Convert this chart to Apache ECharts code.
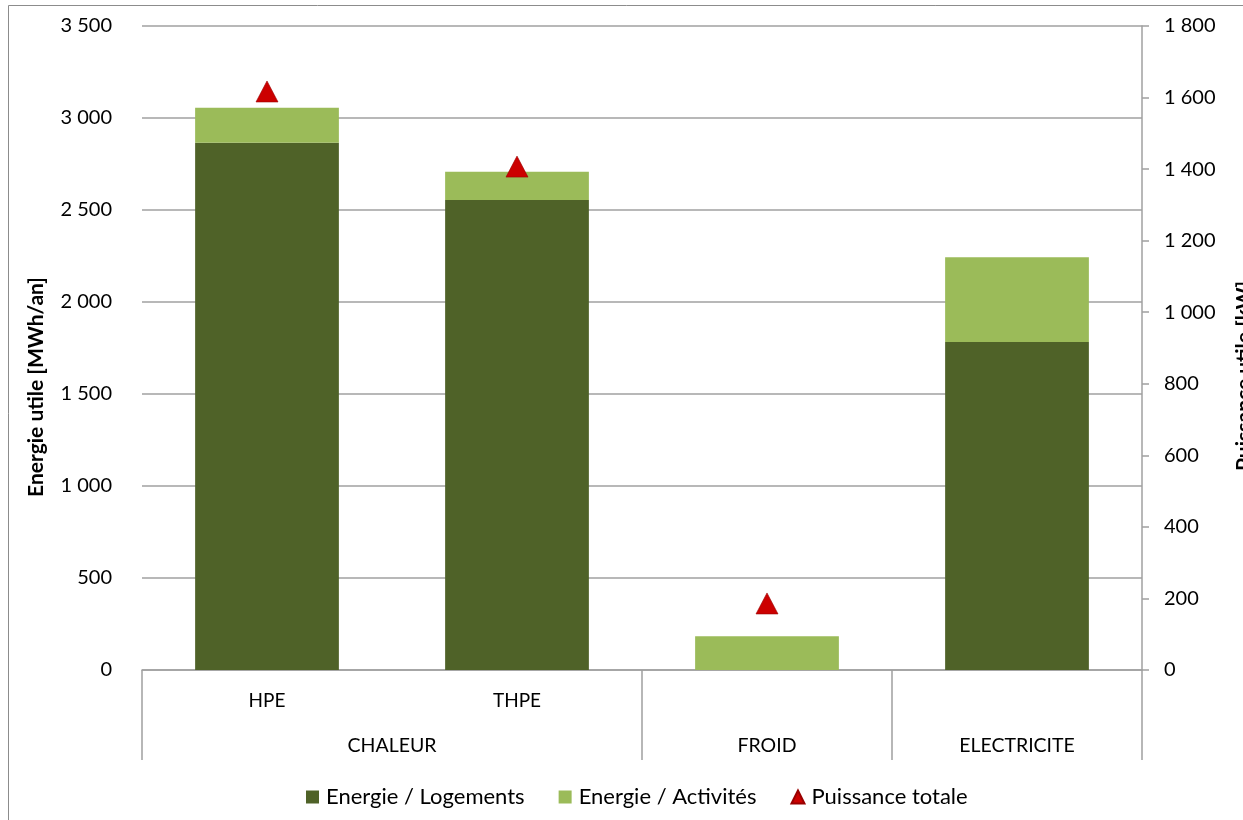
<!DOCTYPE html>
<html>
<head>
<meta charset="utf-8">
<script src="https://cdn.jsdelivr.net/npm/echarts@6/dist/echarts.min.js"></script>
<style>
html,body{margin:0;padding:0;background:#fff;}
#chart{width:1243px;height:820px;}
</style>
</head>
<body>
<div id="chart"></div>
<script>
// ---- data ----
const subCategories = ['HPE', 'THPE', '', ''];
const groupLabels = ['CHALEUR', 'FROID', 'ELECTRICITE'];
const groupSpans = [2, 1, 1];
const energieLogements = [2866, 2555, 0, 1782];
const energieActivites = [190, 153, 183, 461];
const puissanceTotale = [1617, 1407, 186, null];
const leftTicks = [0, 500, 1000, 1500, 2000, 2500, 3000, 3500];
const rightTicks = [0, 200, 400, 600, 800, 1000, 1200, 1400, 1600, 1800];
const seriesNames = ['Energie / Logements', 'Energie / Activités', 'Puissance totale'];
const leftTitle = 'Energie utile [MWh/an]';
const rightTitle = 'Puissance utile [kW]';

// group boundaries and centres derived from spans
const groupBounds = [0];
groupSpans.forEach(s => groupBounds.push(groupBounds[groupBounds.length - 1] + s));
const groupCenters = groupSpans.map((s, i) => groupBounds[i] + s / 2);

const FONT = 'Lato, "Open Sans", sans-serif';
const GRAY = '#a0a0a0';
const fmt = v => String(v).replace(/\B(?=(\d{3})+(?!\d))/g, ' ');

const chart = echarts.init(document.getElementById('chart'), null, {renderer: 'canvas'});
chart.setOption({
  animation: false,
  backgroundColor: '#fff',
  textStyle: {fontFamily: FONT, color: '#000'},
  grid: {left: 142, right: 101, top: 26, bottom: 150},
  legend: {
    left: 301, top: 781,
    itemWidth: 13, itemHeight: 13, itemGap: 34,
    textStyle: {fontFamily: FONT, fontSize: 22, color: '#000', padding: [0, 0, 0, 2]},
    data: [
      {name: seriesNames[0], icon: 'rect'},
      {name: seriesNames[1], icon: 'rect'},
      {name: seriesNames[2], icon: 'triangle'}
    ]
  },
  xAxis: [
    {
      type: 'category', data: subCategories, position: 'bottom',
      axisLine: {show: true, lineStyle: {color: GRAY, width: 1.5}},
      axisTick: {show: false},
      axisLabel: {fontSize: 19, color: '#000', margin: 21, fontFamily: FONT, interval: 0},
      splitLine: {show: false}
    },
    {
      type: 'value', min: 0, max: groupBounds[groupBounds.length - 1], position: 'bottom',
      axisLine: {show: false},
      axisTick: {show: true, customValues: groupBounds, length: 90, lineStyle: {color: GRAY, width: 1.5}},
      axisLabel: {
        show: true, customValues: groupCenters, fontSize: 19.5, color: '#000', margin: 66, fontFamily: FONT,
        formatter: v => { const i = groupCenters.indexOf(v); return i >= 0 ? groupLabels[i] : ''; }
      },
      splitLine: {show: false}
    }
  ],
  yAxis: [
    {
      type: 'value', min: leftTicks[0], max: leftTicks[leftTicks.length - 1], interval: 500, position: 'left',
      axisLine: {show: false}, axisTick: {show: false},
      axisLabel: {fontSize: 20, color: '#000', margin: 30, fontFamily: FONT, formatter: fmt},
      splitLine: {show: true, lineStyle: {color: GRAY, width: 1.5}}
    },
    {
      type: 'value', min: rightTicks[0], max: rightTicks[rightTicks.length - 1], interval: 200, position: 'right',
      axisLine: {show: true, lineStyle: {color: GRAY, width: 1.5}},
      axisTick: {show: true, length: 7, lineStyle: {color: GRAY, width: 1.5}},
      axisLabel: {fontSize: 20, color: '#000', margin: 22, fontFamily: FONT, formatter: fmt},
      splitLine: {show: false}
    }
  ],
  series: [
    {
      name: seriesNames[0], type: 'bar', stack: 'e', barWidth: '57.5%',
      itemStyle: {color: '#4F6228'}, data: energieLogements
    },
    {
      name: seriesNames[1], type: 'bar', stack: 'e', barWidth: '57.5%',
      itemStyle: {color: '#9BBB59'}, data: energieActivites
    },
    {
      name: seriesNames[2], type: 'scatter', yAxisIndex: 1, symbol: 'triangle', symbolSize: [22, 21],
      itemStyle: {color: '#CC0000', borderColor: '#990000', borderWidth: 0.6, opacity: 1}, data: puissanceTotale
    }
  ],
  graphic: [
    {type: 'rect', shape: {x: 8.5, y: 5.5, width: 1400, height: 1000}, style: {fill: 'none', stroke: '#8c8c8c', lineWidth: 1}, silent: true, z: -1},
    {type: 'text', x: 36, y: 387, rotation: Math.PI / 2,
     style: {text: leftTitle, font: 'bold 21px ' + FONT, fill: '#000', align: 'center', verticalAlign: 'middle'}},
    {type: 'text', x: 1244, y: 376, rotation: Math.PI / 2,
     style: {text: rightTitle, font: 'bold 21px ' + FONT, fill: '#000', align: 'center', verticalAlign: 'middle'}}
  ]
});
</script>
</body>
</html>
